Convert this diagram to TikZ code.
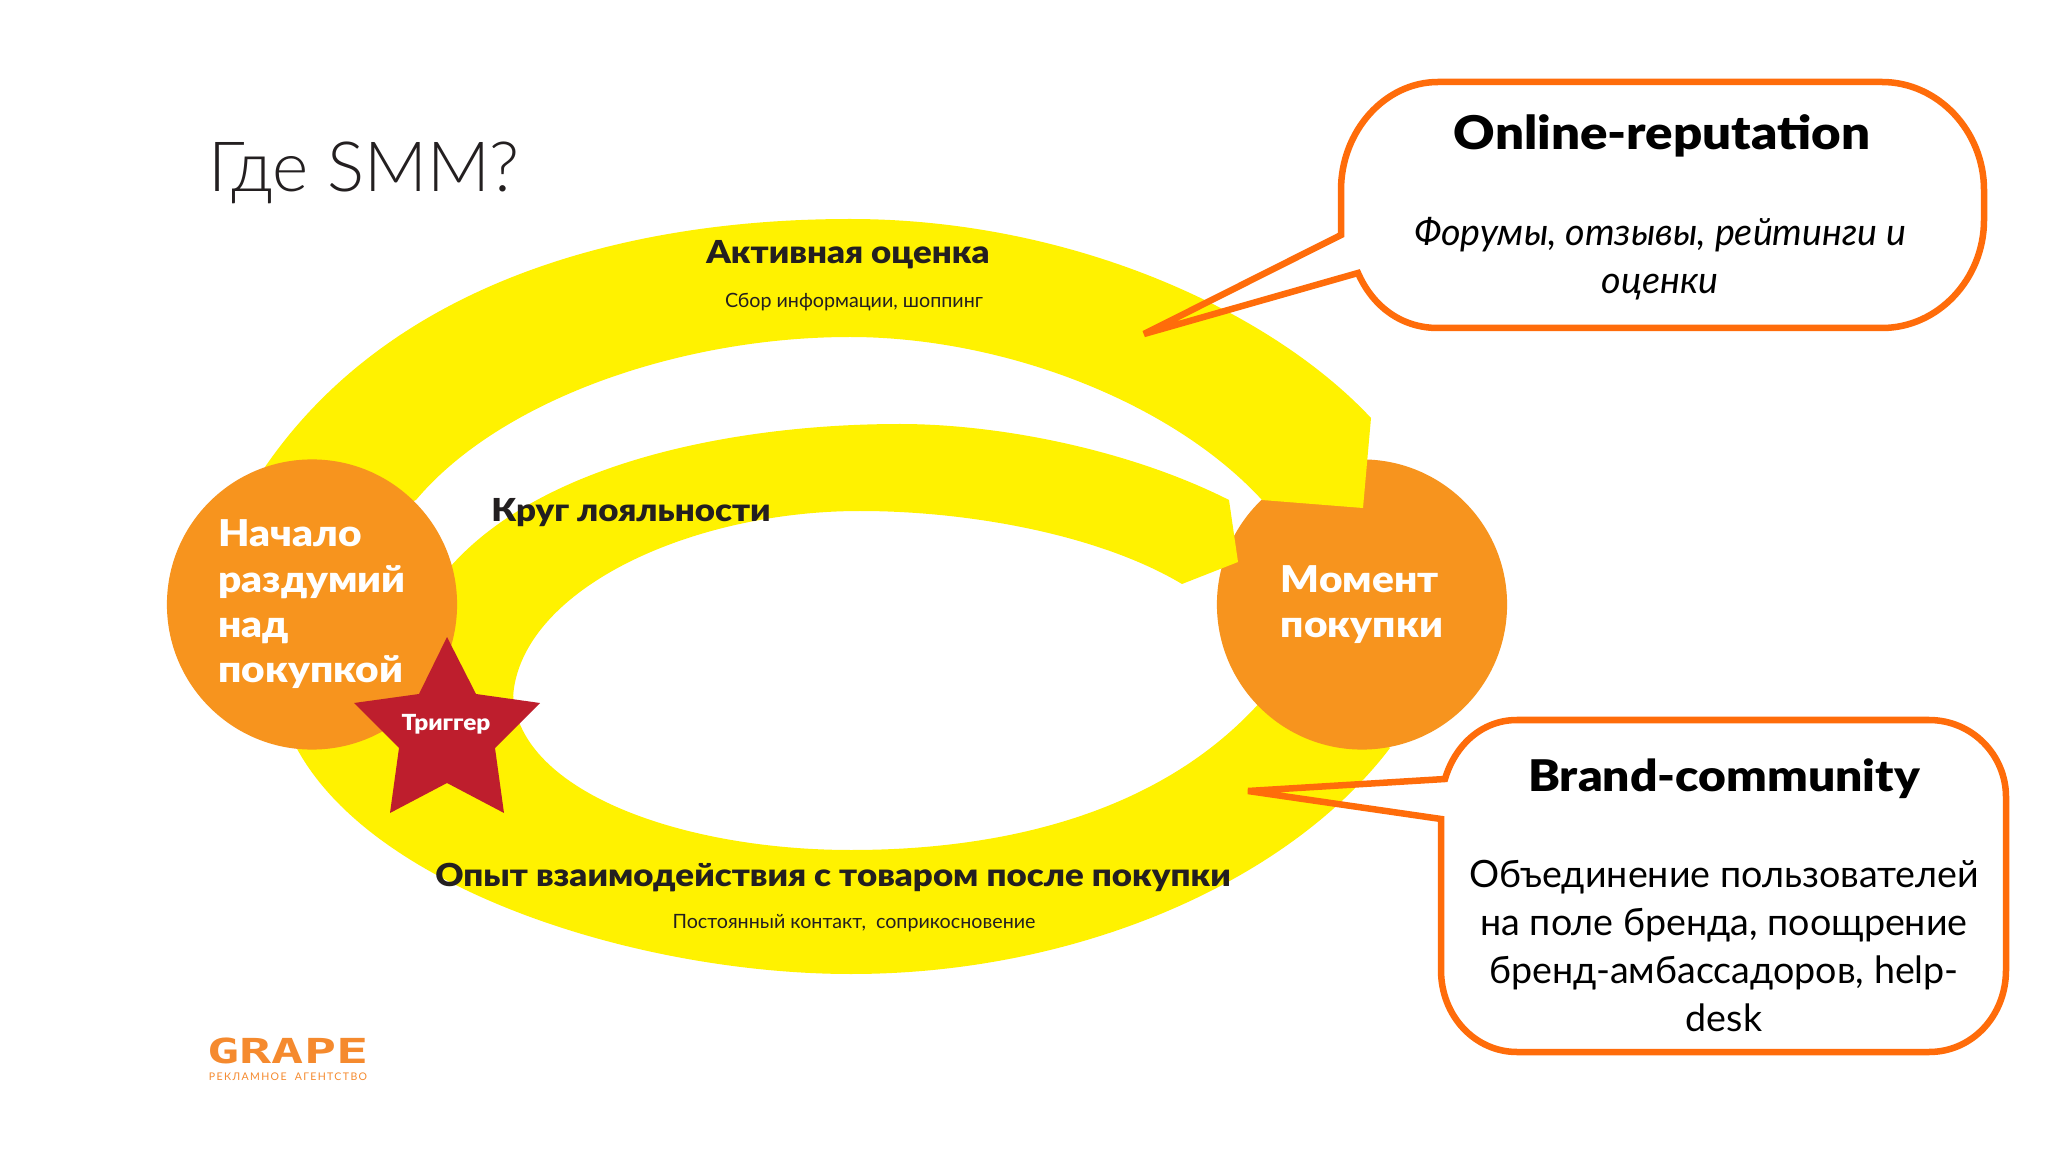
\documentclass[tikz,border=0pt]{standalone}
\usepackage{fontspec}
\setmainfont{Lato}
\newfontfamily\heavyfont[FakeStretch=1.1]{Lato Black}
\newfontfamily\lightfont{Lato Light}
\newfontfamily\blockfont[FakeStretch=1.55]{DejaVu Sans Mono Bold}
\newfontfamily\spacedfont[LetterSpace=13]{Lato}
\definecolor{ringyellow}{HTML}{FFF200}
\definecolor{circleorange}{HTML}{F7941E}
\definecolor{calloutorange}{HTML}{FF6C0A}
\definecolor{starred}{HTML}{BE1E2D}
\definecolor{inkblack}{HTML}{231F20}
\definecolor{logoorange}{HTML}{F58A2E}
\tikzset{
  band/.style={fill=ringyellow},
  stage/.style={circle,fill=circleorange,minimum size=2.9cm,inner sep=0pt,align=left,text=white,
    font=\heavyfont\fontsize{10.5}{12.9}\selectfont},
  bandhead/.style={text=inkblack,inner sep=0pt,font=\heavyfont\fontsize{9}{11}\selectfont},
  bandnote/.style={text=inkblack,inner sep=0pt,font=\fontsize{5.6}{7}\selectfont},
  callout/.style={draw=calloutorange,line width=0.065cm,line join=miter,miter limit=4},
  callhead/.style={text=black,inner sep=0pt,font=\heavyfont\fontsize{#1}{14}\selectfont},
  calltext/.style={text=black,inner sep=0pt,align=center,font=\fontsize{10.7}{13.7}\selectfont},
}
\begin{document}
\begin{tikzpicture}[x=0.01cm,y=-0.01cm]
  \useasboundingbox[fill=white] (0,0) rectangle (2048,1152);
  \node[anchor=base,inner sep=0pt,text=inkblack,font=\lightfont\fontsize{19.7}{24}\selectfont] (title) at (364,192) {Где SMM?};

  % lower part of the ring
  \fill[band] (295,745) .. controls (370,890) and (640,974) .. (851,974)
    .. controls (1080,974) and (1290,880) .. (1390,748)
    -- (1300,680) -- (1262,700)
    .. controls (1160,815) and (1000,850) .. (851,850)
    .. controls (680,850) and (513,790) .. (513,690)
    -- (400,640) -- cycle;
  \node[stage] (purchase) at (1362,604.5) {Момент\\покупки};

  % loyalty loop and upper part
  \fill[band] (420,610) .. controls (495,470) and (720,424) .. (900,424)
    .. controls (1000,424) and (1130,450) .. (1229,500)
    -- (1238,562) -- (1182,584)
    .. controls (1100,535) and (970,511) .. (860,511)
    .. controls (690,511) and (520,590) .. (513,697)
    -- (430,720) -- cycle;
  \fill[band] (265,467) .. controls (390,285) and (620,219) .. (850,219)
    .. controls (1070,219) and (1270,310) .. (1371,418)
    -- (1363,508) -- (1262,500)
    .. controls (1170,400) and (1000,337) .. (850,337)
    .. controls (680,337) and (500,400) .. (416,500)
    -- (330,540) -- cycle;

  \node[stage] (start) at (312,604.5) {Начало\\раздумий\\над\\покупкой};

  \fill[starred] (447,637) -- (476,694) -- (540,703) -- (495,748) -- (504,813) -- (447,783)
    -- (390,813) -- (399,748) -- (354,703) -- (419,694) -- cycle;
  \node[inner sep=0pt,text=white,font=\heavyfont\fontsize{6.3}{8}\selectfont] (trigger) at (446,724) {Триггер};

  \node[bandhead] (active) at (848,255) {Активная оценка};
  \node[bandnote] (activenote) at (854,302) {Сбор информации, шоппинг};
  \node[bandhead] (loyalty) at (631,513) {Круг лояльности};
  \node[bandhead] (experience) at (833,878) {Опыт взаимодействия с товаром после покупки};
  \node[bandnote] (experiencenote) at (854,923) {Постоянный контакт,\ \ соприкосновение};

  % callouts
  \coordinate (reputationtip) at (1144,334);
  \coordinate (communitytip) at (1248,791);
  \draw[callout] (1438,82) -- (1882,82) .. controls (1938,82) and (1984,131) .. (1984,190)
    -- (1984,220) .. controls (1984,279) and (1938,328) .. (1882,328)
    -- (1438,328) .. controls (1400,328) and (1372,305) .. (1358,273)
    -- (reputationtip) -- (1341,235) -- (1341,190) .. controls (1341,131) and (1385,82) .. (1438,82) -- cycle;
  \draw[callout] (1517,720) -- (1929,720) .. controls (1972,720) and (2006,755) .. (2006,797)
    -- (2006,970) .. controls (2006,1016) and (1972,1052) .. (1929,1052)
    -- (1517,1052) .. controls (1475,1052) and (1441,1016) .. (1441,970)
    -- (1441,819) -- (communitytip) -- (1445,779) .. controls (1455,745) and (1482,720) .. (1517,720) -- cycle;

  \node[callhead=13.2] (reputation) at (1662,136) {Online-reputation};
  \node[calltext,font=\itshape\fontsize{10.7}{13.7}\selectfont] (reputationtext) at (1660,259) {Форумы, отзывы, рейтинги и\\оценки};
  \node[callhead=12.4] (community) at (1724,779) {Brand-community};
  \node[calltext] (communitytext) at (1724,946) {Объединение пользователей\\на поле бренда, поощрение\\бренд-амбассадоров, help-\\desk};

  \node[inner sep=0pt,text=logoorange,font=\blockfont\fontsize{9.8}{12}\selectfont] (logo) at (288,1051) {GRAPE};
  \node[inner sep=0pt,text=logoorange,font=\spacedfont\fontsize{3}{4}\selectfont] (logotext) at (288,1077) {РЕКЛАМНОЕ\ \ АГЕНТСТВО};
\end{tikzpicture}
\end{document}
